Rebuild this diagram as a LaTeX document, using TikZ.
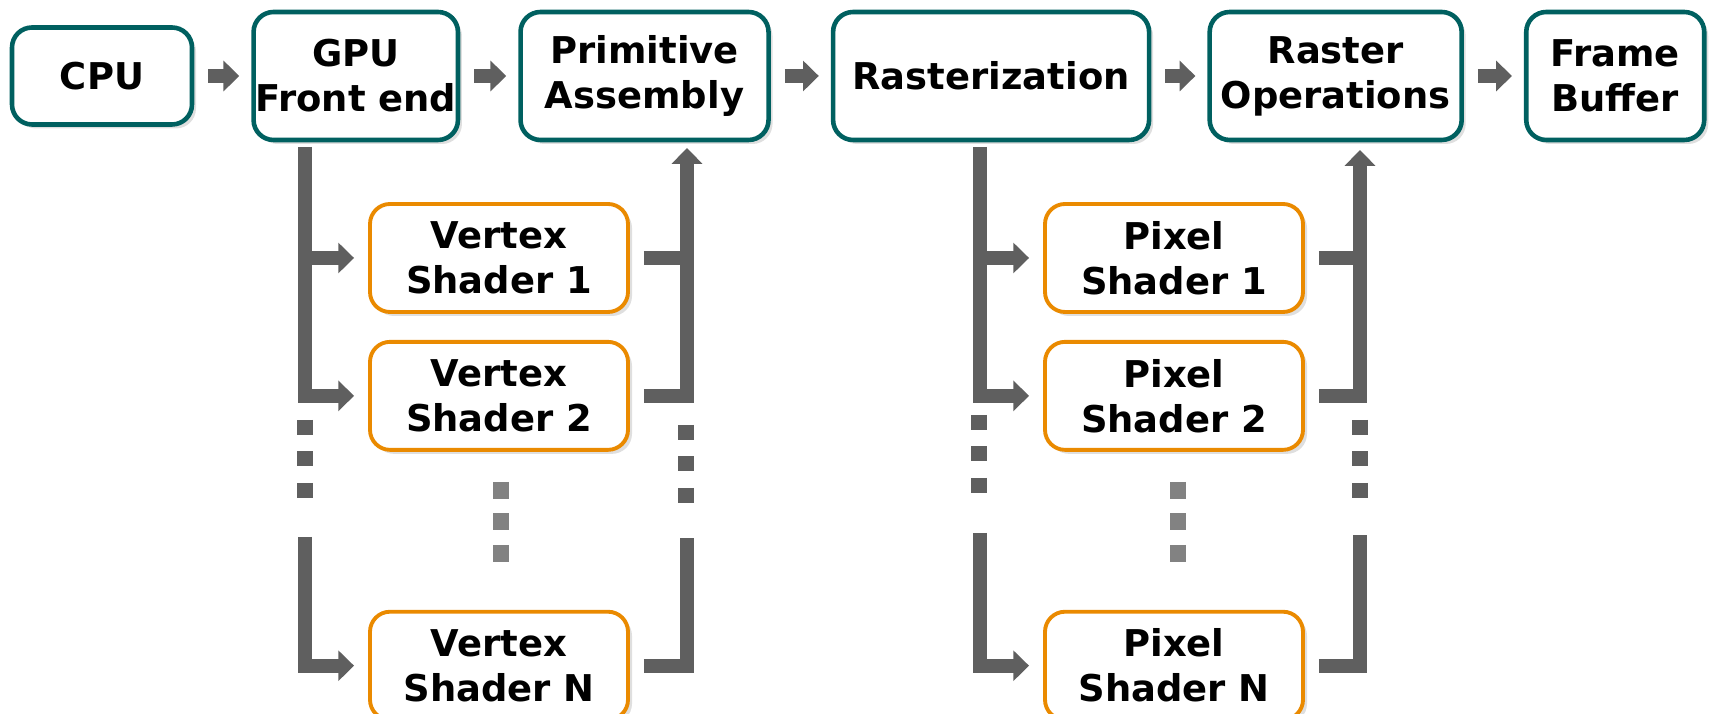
\documentclass[tikz,border=0pt]{standalone}
\usepackage{fontspec}
\setmainfont{DejaVu Sans}
\usepackage{xcolor}
\usetikzlibrary{positioning, arrows.meta, shadows}

\definecolor{stageteal}{RGB}{0,96,96}
\definecolor{shaderorange}{RGB}{234,138,0}
\definecolor{busgray}{RGB}{95,95,95}
\definecolor{dotgray}{RGB}{130,130,130}

\begin{document}
\begin{tikzpicture}[node distance = 0.6 cm, auto,
    stage/.style={draw=stageteal, line width=1.3pt, rounded corners=0.2cm, fill=white, align=center, inner sep=0.5pt, minimum height=1.28cm, font=\fontsize{10.5}{12.8}\selectfont\bfseries, drop shadow={opacity=0.25, shadow xshift=0.04cm, shadow yshift=-0.04cm}},
    shader/.style={stage, draw=shaderorange, line width=1.1pt, minimum width=2.58cm, minimum height=1.08cm},
    bus/.style={draw=busgray, line width=4pt},
    flow/.style={bus, -{Triangle[width=8.5pt, length=4.5pt]}},
    vdots/.style={draw=busgray, line width=4.3pt, dash pattern=on 0.15cm off 0.165cm}]
        \useasboundingbox (0,0) rectangle (17.17,-7.14);

        % pipeline stages
        \node[stage, minimum width=1.80cm, minimum height=0.97cm] (cpu) at (1.02,-0.76) {CPU};
        \node[stage, minimum width=2.04cm] (gpu) [right = 0.57cm of cpu] {GPU\\Front end};
        \node[stage, minimum width=2.48cm] (prim) [right = 0.58cm of gpu] {Primitive\\Assembly};
        \node[stage, minimum width=3.16cm] (rast) [right = of prim] {Rasterization};
        \node[stage, minimum width=2.52cm] (rop) [right = 0.56cm of rast] {Raster\\Operations};
        \node[stage, minimum width=1.78cm] (fb) [right = of rop] {Frame\\Buffer};

        % shaders
        \node[shader] (vs1) at (4.99,-2.58) {Vertex\\Shader 1};
        \node[shader] (vs2) [below = 0.26cm of vs1] {Vertex\\Shader 2};
        \node[shader] (vsn) [below = 1.58cm of vs2] {Vertex\\Shader N};
        \node[shader] (ps1) at (11.74,-2.58) {Pixel\\Shader 1};
        \node[shader] (ps2) [below = 0.26cm of ps1] {Pixel\\Shader 2};
        \node[shader] (psn) [below = 1.58cm of ps2] {Pixel\\Shader N};

        \draw[flow, shorten <=0.14cm, shorten >=0.12cm] (cpu) -- (gpu);
        \draw[flow, shorten <=0.14cm, shorten >=0.12cm] (gpu) -- (prim);
        \draw[flow, shorten <=0.14cm, shorten >=0.12cm] (prim) -- (rast);
        \draw[flow, shorten <=0.14cm, shorten >=0.12cm] (rast) -- (rop);
        \draw[flow, shorten <=0.14cm, shorten >=0.12cm] (rop) -- (fb);

        \coordinate (vin) at (3.05,-1.47);
        \coordinate (vout) at (6.87,-1.48);
        \coordinate (vinlow) at (3.05,-5.37);
        \coordinate (voutlow) at (6.87,-5.38);
        \coordinate (pin) at (9.80,-1.47);
        \coordinate (pout) at (13.60,-1.50);
        \coordinate (pinlow) at (9.80,-5.33);
        \coordinate (poutlow) at (13.60,-5.35);

        \draw[flow, shorten >=0.14cm] (vin) |- (vs2.west);
        \draw[flow, shorten >=0.14cm] (vin |- vs1.west) -- (vs1.west);
        \draw[flow, shorten >=0.14cm] (vinlow) |- (vsn.west);
        \draw[flow, shorten <=0.14cm] (vs2.east) -| (vout);
        \draw[bus, shorten <=0.14cm] (vs1.east) -- (vs1.east -| vout);
        \draw[bus, shorten <=0.14cm] (vsn.east) -| (voutlow);

        \draw[flow, shorten >=0.14cm] (pin) |- (ps2.west);
        \draw[flow, shorten >=0.14cm] (pin |- ps1.west) -- (ps1.west);
        \draw[flow, shorten >=0.14cm] (pinlow) |- (psn.west);
        \draw[flow, shorten <=0.14cm] (ps2.east) -| (pout);
        \draw[bus, shorten <=0.14cm] (ps1.east) -- (ps1.east -| pout);
        \draw[bus, shorten <=0.14cm] (psn.east) -| (poutlow);

        % dots
        \foreach \x/\y in {3.05/4.20, 6.86/4.25, 9.79/4.15, 13.60/4.20}
            \draw[vdots] (\x,-\y) -- ++(0,-0.78);
        \foreach \x in {5.01, 11.78}
            \draw[vdots, draw=dotgray, line width=4.8pt, dash pattern=on 0.17cm off 0.145cm] (\x,-4.82) -- ++(0,-0.80);
    \end{tikzpicture}
\end{document}
